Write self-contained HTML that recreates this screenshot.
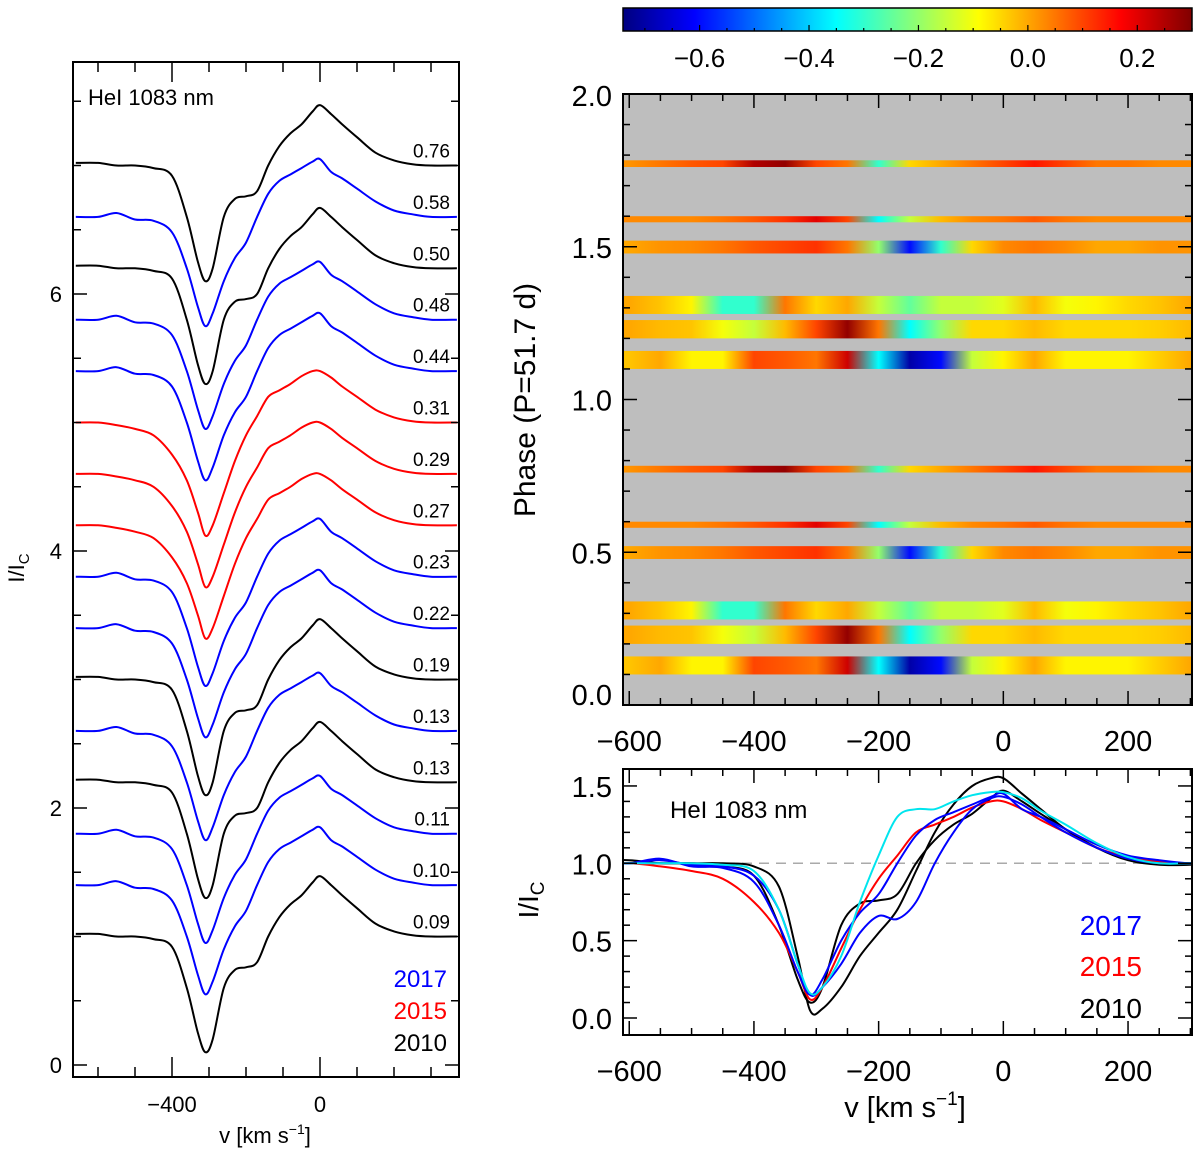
<!DOCTYPE html>
<html><head><meta charset="utf-8"><style>
html,body{margin:0;padding:0;background:#fff;}
svg{display:block;font-family:"Liberation Sans",sans-serif;}
</style></head><body>
<svg id="c" width="1200" height="1157" viewBox="0 0 1200 1157" xmlns="http://www.w3.org/2000/svg"></svg>
<script>
// ---- data ----
const velNodes = [-660,-600,-550,-500,-450,-400,-360,-330,-310,-290,-260,-230,-200,-170,-140,-110,-80,-50,-20,0,30,60,100,150,200,250,300,370];
const prof2010 = [1.02,1.02,1.0,1.0,0.98,0.92,0.6,0.25,0.1,0.2,0.6,0.74,0.76,0.8,1.0,1.15,1.25,1.32,1.42,1.47,1.4,1.32,1.22,1.1,1.04,1.01,1.0,1.0];
const prof2010b = [1.0,1.0,1.0,1.0,1.0,0.98,0.85,0.4,0.05,0.06,0.2,0.4,0.55,0.7,0.95,1.2,1.38,1.5,1.55,1.55,1.45,1.35,1.22,1.1,1.02,0.99,0.99,1.0];
const prof2017 = [1.0,1.0,1.03,0.98,0.97,0.88,0.6,0.3,0.15,0.25,0.5,0.68,0.8,1.0,1.18,1.28,1.33,1.38,1.43,1.45,1.35,1.3,1.22,1.12,1.05,1.02,1.0,1.0];
const prof2017b = [1.0,1.0,1.02,0.99,0.98,0.92,0.7,0.35,0.15,0.2,0.35,0.55,0.66,0.64,0.75,1.0,1.2,1.35,1.42,1.43,1.38,1.3,1.2,1.1,1.03,1.0,1.0,1.0];
const profCyan = [1.0,1.0,1.0,1.0,0.99,0.95,0.7,0.35,0.16,0.2,0.4,0.75,1.05,1.3,1.35,1.35,1.4,1.44,1.46,1.46,1.42,1.34,1.25,1.13,1.04,1.0,1.0,1.0];
const prof2015 = [1.0,1.0,0.98,0.95,0.9,0.75,0.55,0.3,0.12,0.2,0.45,0.7,0.9,1.05,1.2,1.25,1.3,1.36,1.4,1.4,1.35,1.28,1.2,1.1,1.04,1.01,1.0,1.0];
const phaseLabels = ["0.09","0.10","0.11","0.13","0.13","0.19","0.22","0.23","0.27","0.29","0.31","0.44","0.48","0.50","0.58","0.76"];
const specYears = ["2010","2017","2017","2010","2017","2010","2017","2017","2015","2015","2015","2017","2017","2010","2017","2010"];
const specOffsets = [0,0.4,0.8,1.2,1.6,2.0,2.4,2.8,3.2,3.6,4.0,4.4,4.8,5.2,5.6,6.0];
// heatmap
const hmVel = [-600,-550,-500,-450,-400,-350,-300,-250,-200,-150,-100,-50,0,50,100,150,200,250,300];
const stripePhaseLo = [0.10,0.20,0.28,0.478,0.58,0.761];
const stripePhaseHi = [0.159,0.26,0.339,0.52,0.60,0.783];
const stripe1 = [-0.03,0.0,-0.08,-0.08,0.1,0.08,0.05,0.22,-0.35,-0.7,-0.6,-0.15,-0.08,0.0,-0.08,-0.08,-0.08,-0.04,0.0];
const stripe2 = [0,-0.02,-0.03,-0.1,-0.15,-0.02,0.1,0.28,0.05,-0.35,-0.2,-0.05,-0.05,-0.02,-0.05,-0.05,-0.05,-0.04,-0.02];
const stripe3 = [0,-0.03,-0.08,-0.3,-0.3,0.05,-0.05,0.0,-0.15,-0.25,-0.15,-0.15,-0.12,-0.02,-0.1,-0.08,-0.05,-0.03,0];
const stripe4 = [0.0,0.02,0.03,0.05,0.08,0.1,0.12,0.05,-0.2,-0.6,-0.3,-0.05,0.03,0.05,0.03,0.0,0.0,0.02,0.02];
const stripe5 = [0.03,0.03,0.03,0.05,0.08,0.12,0.2,0.1,-0.35,-0.15,-0.02,0.03,0.05,0.08,0.05,0.03,0.03,0.03,0.03];
const stripe6 = [0.02,0.05,0.08,0.1,0.25,0.28,0.1,0.05,-0.3,-0.05,0.0,0.05,0.1,0.15,0.1,0.05,0.05,0.03,0.03];
const cbTicks = [-0.6,-0.4,-0.2,0.0,0.2];
const cbTickLabels = ["\u22120.6","\u22120.4","\u22120.2","0.0","0.2"];

// ---- helpers ----
const NS="http://www.w3.org/2000/svg";
const svg=document.getElementById('c');
function mk(tag,attrs,parent){const e=document.createElementNS(NS,tag);for(const k in attrs)e.setAttribute(k,attrs[k]);(parent||svg).appendChild(e);return e;}
function txt(s,x,y,size,anchor,fill,parent){const t=mk('text',{x:x,y:y,'font-size':size,'text-anchor':anchor||'middle',fill:fill||'#000'},parent);t.textContent=s;return t;}
function jet(v){const t=Math.max(0,Math.min(1,(v-(-0.74))/(0.30+0.74)));
  const r=Math.max(0,Math.min(1,1.5-Math.abs(4*t-3))),g=Math.max(0,Math.min(1,1.5-Math.abs(4*t-2))),b=Math.max(0,Math.min(1,1.5-Math.abs(4*t-1)));
  return 'rgb('+Math.round(r*255)+','+Math.round(g*255)+','+Math.round(b*255)+')';}
function smoothPath(P){let d='M'+P[0][0].toFixed(1)+','+P[0][1].toFixed(1);
  for(let i=0;i<P.length-1;i++){const p0=P[Math.max(0,i-1)],p1=P[i],p2=P[i+1],p3=P[Math.min(P.length-1,i+2)];
    const c1=[p1[0]+(p2[0]-p0[0])/6,p1[1]+(p2[1]-p0[1])/6],c2=[p2[0]-(p3[0]-p1[0])/6,p2[1]-(p3[1]-p1[1])/6];
    d+=' C'+c1[0].toFixed(1)+','+c1[1].toFixed(1)+' '+c2[0].toFixed(1)+','+c2[1].toFixed(1)+' '+p2[0].toFixed(1)+','+p2[1].toFixed(1);}
  return d;}
const yearColor={"2010":"#000","2017":"#0000ff","2015":"#ff0000"};
const profs={"2010":prof2010,"2017":prof2017,"2015":prof2015};

const defs=mk('defs',{});
const cp=mk('clipPath',{id:'clipL'},defs);mk('rect',{x:73,y:62,width:386,height:1015},cp);
const cpb=mk('clipPath',{id:'clipB'},defs);mk('rect',{x:623,y:769,width:569,height:266},cpb);

// ---- left panel ----
const L={x0:73,x1:459,y0:62,y1:1077};
const lx=v=>320+(v)*0.37, ly=u=>1065-u*128.5;
const gL=mk('g',{});


for(let i=0;i<specOffsets.length;i++){
  const p=profs[specYears[i]];
  const P=velNodes.map((v,j)=>[lx(v),ly(p[j]+specOffsets[i])]);
  const pl=mk('path',{d:smoothPath(P),fill:'none',stroke:yearColor[specYears[i]],'stroke-width':2,'clip-path':'url(#clipL)'},gL);
  
  
  const t=txt(phaseLabels[i],450,ly(specOffsets[i]+1.0)-8,19,'end','#000',gL);
  
  
}
mk('rect',{x:L.x0,y:L.y0,width:L.x1-L.x0,height:L.y1-L.y0,fill:'none',stroke:'#000','stroke-width':2,},gL);
for(let v=-600;v<=300;v+=100){const x=lx(v),len=(v%400===0)?20:10;
  mk('line',{x1:x,x2:x,y1:L.y1,y2:L.y1-len,stroke:'#000','stroke-width':1.5},gL);
  mk('line',{x1:x,x2:x,y1:L.y0,y2:L.y0+len,stroke:'#000','stroke-width':1.5},gL);}
for(let u=0;u<=7.5;u+=0.5){const y=ly(u),len=(u%2===0)?14:8;
  mk('line',{x1:L.x0,x2:L.x0+len,y1:y,y2:y,stroke:'#000','stroke-width':1.5},gL);
  mk('line',{x1:L.x1,x2:L.x1-len,y1:y,y2:y,stroke:'#000','stroke-width':1.5},gL);}
[["\u2212400",-400],["0",0]].forEach(a=>txt(a[0],lx(a[1]),1112,22,'middle','#000',gL));
[0,2,4,6].forEach(u=>txt(String(u),62,ly(u)+8,22,'end','#000',gL));
txt('HeI 1083 nm',88,105,22,'start','#000',gL);
let t=txt('',0,0,22,'middle','#000',gL);t.setAttribute('transform','translate(24,568) rotate(-90)');t.innerHTML='I/I<tspan font-size="15" dy="5">C</tspan>';
t=txt('',265,1143,22,'middle','#000',gL);t.innerHTML='v [km s<tspan font-size="14" dy="-9">\u22121</tspan><tspan dy="9">]</tspan>';
[["2017","#0000ff",987],["2015","#ff0000",1019],["2010","#000",1051]].forEach(a=>{const e=txt(a[0],447,a[2],24,'end',a[1],gL);});

// ---- colorbar ----
const cbx=v=>623+(v+0.74)/(1.04)*569;
const gr=mk('linearGradient',{id:'cbg',x1:0,x2:1,y1:0,y2:0},defs);
for(let i=0;i<=40;i++){const v=-0.74+1.04*i/40;mk('stop',{offset:(i/40),'stop-color':jet(v)},gr);}
mk('rect',{x:623,y:8,width:569,height:23,fill:'url(#cbg)',stroke:'#000','stroke-width':1.5,});
for(let v=-0.7;v<=0.31;v+=0.05){const x=cbx(v);const maj=Math.abs(Math.round(v*100)%20)<1;mk('line',{x1:x,x2:x,y1:31,y2:maj?25:28,stroke:'#000','stroke-width':1.2});}
cbTicks.forEach((v,i)=>{const e=txt(cbTickLabels[i],cbx(v),67,26,'middle');});

// ---- heatmap panel ----
const hx=v=>623+(v+610)*0.6235, hy=p=>705-p*305.5;
const gH=mk('g',{});
mk('rect',{x:623,y:94,width:569,height:611,fill:'#bebebe'},gH);
const stripes=[stripe1,stripe2,stripe3,stripe4,stripe5,stripe6];
stripes.forEach((arr,si)=>{
  const g=mk('linearGradient',{id:'sg'+si,gradientUnits:'userSpaceOnUse',x1:623,x2:1192,y1:0,y2:0},defs);
  arr.forEach((val,j)=>mk('stop',{offset:((hx(hmVel[j])-623)/569).toFixed(4),'stop-color':jet(val)},g));
  [0,1].forEach(k=>{
    const r=mk('rect',{x:623,y:hy(stripePhaseHi[si]+k),width:569,height:hy(stripePhaseLo[si]+k)-hy(stripePhaseHi[si]+k),fill:'url(#sg'+si+')'},gH);
    
    
  });
});
mk('rect',{x:623,y:94,width:569,height:611,fill:'none',stroke:'#000','stroke-width':2},gH);
for(let v=-600;v<=300;v+=50){const x=hx(v),maj=v%200===0;
  [[705,-1],[94,1],[1035,-1],[769,1]].forEach(a=>mk('line',{x1:x,x2:x,y1:a[0],y2:a[0]+a[1]*(maj?14:7),stroke:'#000','stroke-width':1.5}));}
for(let i=0;i<=20;i++){const p=i/10,y=hy(p),maj=i%5===0;
  mk('line',{x1:623,x2:623+(maj?14:7),y1:y,y2:y,stroke:'#000','stroke-width':1.5});
  mk('line',{x1:1192,x2:1192-(maj?14:7),y1:y,y2:y,stroke:'#000','stroke-width':1.5});}
["0.0","0.5","1.0","1.5","2.0"].forEach((s,i)=>txt(s,612,Math.min(hy(i*0.5),700)+(i===0?5:11)-(i===4?-1:0),29,'end'));
[["\u2212600",-600],["\u2212400",-400],["\u2212200",-200],["0",0],["200",200]].forEach(a=>{txt(a[0],hx(a[1]),751,29);txt(a[0],hx(a[1]),1081,29);});
t=txt('Phase (P=51.7 d)',0,0,30);t.setAttribute('transform','translate(535,400) rotate(-90)');

// ---- bottom right panel ----
const by=u=>1018-u*154.7;
const gB=mk('g',{});
mk('line',{x1:623,x2:1192,y1:by(1),y2:by(1),stroke:'#aaa','stroke-width':1.5,'stroke-dasharray':'10,7'},gB);
const bLines=[[prof2010,'#000'],[prof2010b,'#000'],[prof2015,'#ff0000'],[prof2017,'#0000ff'],[prof2017b,'#0000ff'],[profCyan,'#00e5ee']];
bLines.forEach(a=>{const pl=mk('path',{d:smoothPath(velNodes.map((v,j)=>[hx(v),by(a[0][j])])),fill:'none',stroke:a[1],'stroke-width':2,'clip-path':'url(#clipB)'},gB);
  
  });
mk('rect',{x:623,y:769,width:569,height:266,fill:'none',stroke:'#000','stroke-width':2},gB);
for(let i=0;i<=15;i++){const y=by(i/10),maj=i%5===0;
  mk('line',{x1:623,x2:623+(maj?14:7),y1:y,y2:y,stroke:'#000','stroke-width':1.5},gB);
  mk('line',{x1:1192,x2:1192-(maj?14:7),y1:y,y2:y,stroke:'#000','stroke-width':1.5},gB);}
["0.0","0.5","1.0","1.5"].forEach((s,i)=>txt(s,612,by(i*0.5)+11,29,'end','#000',gB));
txt('HeI 1083 nm',670,818,24,'start','#000',gB);
[["2017","#0000ff",935],["2015","#ff0000",976],["2010","#000",1018]].forEach(a=>{const e=txt(a[0],1142,a[2],28,'end',a[1],gB);});
t=txt('',0,0,28,'middle','#000',gB);t.setAttribute('transform','translate(538,900) rotate(-90)');t.innerHTML='I/I<tspan font-size="19" dy="6">C</tspan>';
t=txt('',905,1117,29,'middle','#000',gB);t.innerHTML='v [km s<tspan font-size="19" dy="-12">\u22121</tspan><tspan dy="12">]</tspan>';
</script>
</body></html>
